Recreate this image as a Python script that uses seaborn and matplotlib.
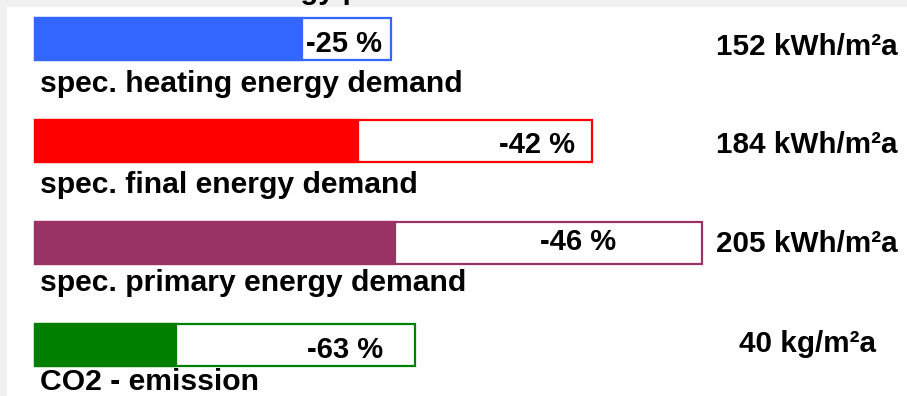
import matplotlib
matplotlib.use("Agg")
import matplotlib.pyplot as plt
from matplotlib.patches import Rectangle
import pandas as pd
import seaborn as sns

# Building energy figures after refurbishment and their reductions
categories = [
    "spec. heating energy demand",
    "spec. final energy demand",
    "spec. primary energy demand",
    "CO2 - emission",
]
after_values = [152, 184, 205, 40]
units = ["kWh/m²a", "kWh/m²a", "kWh/m²a", "kg/m²a"]
reduction_pct = [25, 42, 46, 63]
colors = ["#3366ff", "#ff0000", "#993366", "#008000"]
# CO2 bar is drawn on a doubled scale so it is comparable in length
display_scale = [1, 1, 1, 2]

df = pd.DataFrame({
    "category": categories,
    "after": [a * s for a, s in zip(after_values, display_scale)],
    "before": [a / (1 - r / 100) * s
               for a, r, s in zip(after_values, reduction_pct, display_scale)],
})

sns.set_theme(style="white")
plt.rcParams["font.family"] = ["Liberation Sans", "DejaVu Sans"]

W, H = 907, 396
fig = plt.figure(figsize=(W / 100, H / 100), dpi=100, facecolor="#f0f0f0")
fig.add_artist(Rectangle((7 / W, 0), 1, (H - 7) / H, transform=fig.transFigure,
                         facecolor="white", edgecolor="none", zorder=-10))

ax = fig.add_axes([0, 0, 1, 1])
ax.patch.set_alpha(0)

bar_h = 0.412
# outline = value before refurbishment
sns.barplot(data=df, x="before", y="category", hue="category", palette=colors,
            fill=False, width=bar_h, linewidth=1.6, saturation=1,
            legend=False, ax=ax)
n_outline = len(ax.patches)
# filled = value after refurbishment
sns.barplot(data=df, x="after", y="category", hue="category", palette=colors,
            width=bar_h, linewidth=1.6, saturation=1, legend=False, ax=ax)
for p in ax.patches[n_outline:]:
    p.set_edgecolor(p.get_facecolor())
    p.set_zorder(1)
for p in ax.patches[:n_outline]:
    p.set_zorder(2)

px_per_unit = 1.757
ax.set_xlim(-35 / px_per_unit, (W - 35) / px_per_unit)
ax.set_ylim(3.5, -0.386)
ax.set_axis_off()

font = dict(fontweight="bold", color="black")

# category captions under each bar
caption_y = [0.517, 1.508, 2.470, 3.441]
for i, name in enumerate(categories):
    ax.text(2.9, caption_y[i], name, ha="left", va="baseline",
            fontsize=21.7, **font)

# reduction percentages inside the bars
pct_x = [176.0, 285.5, 309.0, 176.5]
pct_y = [0.125, 1.116, 2.068, 3.128]
for i, r in enumerate(reduction_pct):
    ax.text(pct_x[i], pct_y[i], f"-{r} %", ha="center", va="baseline",
            fontsize=21, **font)

# absolute values on the right
value_y = [0.154, 1.116, 2.087, 3.068]
for i, (v, u) in enumerate(zip(after_values, units)):
    ax.text(439.5, value_y[i], f"{v} {u}", ha="center", va="baseline",
            fontsize=21.3, **font)

# heading line above the panel
fig.text(239 / W, 1 + 1 / H, "energy performance", ha="left", va="baseline",
         fontsize=21, **font)

fig.savefig("out.png", dpi=100, facecolor=fig.get_facecolor())
